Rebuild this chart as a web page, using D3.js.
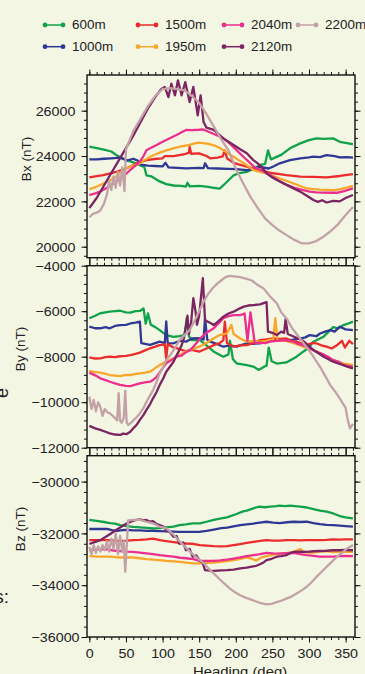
<!DOCTYPE html>
<html>
<head>
<meta charset="utf-8">
<script src="https://cdn.jsdelivr.net/npm/d3@7"></script>
<style>
  body { margin: 0; background: #f4f6e4; }
  svg { display: block; font-family: "Liberation Sans", Arial, sans-serif; }
</style>
</head>
<body>
<svg id="chart" width="365" height="674"></svg>
<script>
// legend / series info
const depths = ['600m', '1000m', '1500m', '1950m', '2040m', '2120m', '2200m'];
const colors = ['#10a24b', '#2f3894', '#ec2c2c', '#f9a72b', '#ec2f8e', '#7b2462', '#c3a2a7'];

// tick labels
const headingTicks = [0, 50, 100, 150, 200, 250, 300, 350];
const bxTicks = [20000, 22000, 24000, 26000];
const byTicks = [-12000, -10000, -8000, -6000, -4000];
const bzTicks = [-36000, -34000, -32000, -30000];

// ---- Bx (nT), [heading, value]
const bx600 = [[0,24420],[10,24350],[20,24280],[30,24200],[38,24020],[45,23900],[51,23820],[60,23720],[70,23580],[75,23520],[78,23150],[85,23100],[90,23000],[96,22880],[105,22760],[115,22700],[125,22680],[132,22650],[134,22820],[137,22660],[150,22680],[160,22650],[170,22600],[178,22560],[186,22800],[197,23150],[205,23250],[215,23300],[225,23450],[233,23600],[240,23650],[244,24250],[248,23850],[255,23950],[262,24050],[274,24340],[288,24560],[300,24700],[310,24780],[320,24760],[333,24780],[342,24630],[350,24580],[360,24520]];
const bx1000 = [[0,23850],[10,23850],[20,23880],[30,23900],[42,23930],[48,23850],[51,23800],[60,23880],[66,23800],[70,23620],[80,23580],[90,23560],[100,23540],[104,23700],[108,23500],[120,23480],[132,23460],[150,23480],[156,23470],[158,23680],[162,23470],[175,23450],[190,23430],[200,23420],[215,23380],[225,23450],[233,23520],[245,23450],[252,23550],[260,23680],[274,23820],[288,23900],[300,23940],[306,23970],[315,23950],[324,24040],[335,24000],[342,23940],[352,23950],[360,23930]];
const bx1500 = [[0,23060],[10,23110],[19,23160],[30,23250],[38,23310],[51,23460],[65,23680],[78,23820],[92,23880],[100,23900],[103,24000],[115,24000],[123,24040],[130,24080],[136,24150],[137,24400],[139,24100],[150,24120],[160,24000],[165,23900],[175,23930],[182,23980],[185,24250],[188,23900],[197,23700],[205,23620],[215,23530],[225,23450],[233,23380],[245,23280],[251,23240],[260,23200],[269,23160],[288,23090],[306,23080],[324,23060],[342,23120],[360,23200]];
const bx1950 = [[0,22540],[8,22620],[15,22720],[25,22880],[33,23010],[42,23250],[51,23460],[60,23580],[69,23680],[76,23830],[83,23970],[90,24070],[96,24150],[103,24230],[110,24290],[117,24360],[123,24410],[130,24450],[137,24490],[144,24560],[150,24590],[158,24560],[165,24520],[172,24450],[179,24340],[188,24150],[197,23970],[204,23820],[211,23680],[218,23530],[224,23380],[233,23300],[242,23240],[251,23120],[260,23010],[270,22900],[279,22790],[288,22680],[297,22570],[306,22540],[315,22520],[324,22510],[333,22500],[342,22530],[350,22600],[360,22680]];
const bx2040 = [[0,22280],[8,22350],[15,22430],[24,22600],[33,22790],[42,23000],[51,23240],[60,23500],[69,23750],[74,24000],[78,24260],[85,24380],[92,24490],[98,24600],[105,24710],[112,24820],[119,24930],[126,25050],[132,25150],[140,25140],[150,25160],[155,25180],[162,25080],[170,24970],[177,24880],[183,24780],[192,24550],[201,24260],[210,23980],[220,23680],[226,23500],[233,23400],[240,23280],[247,23160],[256,22980],[265,22790],[274,22680],[283,22570],[292,22500],[301,22430],[310,22400],[320,22390],[330,22380],[338,22380],[348,22450],[360,22570]];
const bx2120 = [[0,21700],[10,22150],[20,22700],[30,23250],[40,23800],[50,24350],[60,24900],[70,25500],[80,26100],[90,26600],[98,26950],[103,27050],[108,26600],[112,27190],[117,26680],[121,27340],[126,26680],[131,27260],[137,26380],[142,27050],[148,25800],[152,26680],[156,25500],[160,25250],[170,25150],[183,24780],[197,24490],[206,24300],[215,24120],[224,23820],[233,23600],[242,23240],[250,23050],[256,22940],[265,22800],[274,22650],[288,22430],[297,22250],[306,22060],[312,21980],[318,22050],[324,21950],[333,22020],[342,22000],[350,22150],[360,22280]];
const bx2200 = [[0,21300],[5,21450],[10,21500],[15,21600],[20,21900],[24,22300],[27,22900],[30,22500],[33,23100],[36,22600],[39,23300],[42,22700],[45,23500],[48,22450],[50,24300],[55,24700],[60,25100],[70,25650],[80,26200],[90,26650],[100,26950],[110,27000],[120,26950],[130,26900],[140,26650],[150,26350],[160,25850],[170,25300],[180,24750],[190,24250],[200,23450],[210,22800],[220,22200],[230,21700],[240,21250],[250,20950],[260,20700],[270,20500],[280,20300],[290,20150],[300,20150],[310,20250],[320,20450],[330,20700],[340,21000],[350,21400],[360,21750]];

// ---- By (nT)
const by600 = [[0,-6310],[8,-6200],[15,-6090],[22,-6050],[28,-6020],[35,-6000],[42,-5980],[50,-6050],[56,-6060],[63,-6000],[69,-5990],[74,-5880],[77,-6550],[80,-6100],[84,-6600],[90,-6700],[96,-6830],[105,-7050],[115,-7130],[123,-7100],[130,-7050],[133,-6300],[136,-7100],[140,-7270],[151,-7270],[160,-7500],[170,-7780],[183,-8000],[190,-7900],[192,-7300],[196,-8100],[201,-8290],[215,-8370],[225,-8450],[231,-8580],[238,-8450],[242,-8400],[245,-7600],[249,-8200],[256,-8300],[269,-8250],[283,-8000],[292,-7780],[300,-7600],[306,-7340],[315,-7200],[320,-7120],[333,-6700],[340,-6750],[347,-6610],[353,-6550],[360,-6460]];
const by1000 = [[0,-6680],[8,-6750],[15,-6750],[22,-6700],[28,-6750],[35,-6650],[42,-6610],[50,-6600],[56,-6540],[63,-6500],[69,-6460],[71,-7400],[78,-7450],[83,-7480],[90,-7400],[96,-7340],[103,-7400],[105,-6450],[107,-7400],[115,-7410],[124,-7300],[132,-7340],[140,-7200],[151,-7180],[156,-7250],[158,-6300],[161,-7250],[165,-7340],[175,-7450],[183,-7560],[192,-7500],[201,-7560],[215,-7410],[224,-7430],[233,-7410],[242,-7350],[251,-7270],[260,-7300],[269,-7270],[278,-7250],[288,-7200],[295,-7150],[301,-7050],[310,-7100],[315,-6980],[322,-6900],[329,-6830],[335,-6900],[342,-6680],[350,-6800],[360,-6830]];
const by1500 = [[0,-8030],[8,-8080],[15,-8070],[22,-8020],[28,-8000],[35,-8020],[42,-7980],[50,-7960],[56,-7930],[63,-7880],[69,-7820],[76,-7720],[83,-7630],[90,-7560],[96,-7490],[103,-7460],[105,-8100],[107,-7450],[115,-7600],[119,-7620],[126,-7700],[132,-7760],[140,-7700],[150,-7780],[160,-7640],[170,-7490],[178,-7400],[183,-7270],[185,-6460],[188,-7400],[197,-7560],[206,-7500],[215,-7490],[224,-7400],[233,-7270],[242,-7240],[251,-7200],[260,-7220],[269,-7200],[276,-7300],[283,-7340],[290,-7420],[297,-7490],[304,-7400],[310,-7410],[317,-7500],[324,-7560],[331,-7640],[338,-7500],[345,-7300],[349,-7600],[355,-7300],[360,-7450]];
const by1950 = [[0,-8620],[8,-8680],[15,-8700],[22,-8750],[28,-8810],[35,-8830],[42,-8850],[50,-8800],[56,-8810],[63,-8760],[69,-8730],[76,-8700],[83,-8660],[90,-8500],[96,-8370],[103,-8250],[110,-8150],[117,-8040],[123,-7930],[130,-7800],[137,-7710],[143,-7640],[150,-7560],[160,-7400],[170,-7190],[178,-7050],[188,-6970],[194,-6600],[197,-7000],[206,-7200],[215,-7340],[224,-7300],[233,-7340],[242,-7300],[247,-7250],[251,-7280],[254,-6300],[257,-7300],[265,-7280],[272,-7340],[279,-7400],[286,-7480],[292,-7560],[299,-7640],[306,-7710],[313,-7820],[320,-7930],[326,-8040],[333,-8150],[340,-8220],[347,-8300],[353,-8330],[360,-8370]];
const by2040 = [[0,-8700],[8,-8820],[15,-8950],[22,-9030],[28,-9100],[35,-9170],[42,-9240],[50,-9280],[56,-9290],[63,-9230],[69,-9170],[76,-9130],[83,-9100],[88,-9000],[92,-8880],[98,-8600],[105,-8290],[112,-8150],[119,-8000],[126,-7950],[132,-7800],[138,-7700],[145,-7450],[151,-7200],[160,-6950],[170,-6750],[176,-6550],[183,-6310],[190,-6220],[197,-6170],[206,-6170],[212,-6100],[216,-7300],[220,-6050],[226,-7400],[233,-7380],[240,-7400],[247,-7340],[256,-7300],[265,-7270],[272,-7300],[279,-7340],[286,-7450],[292,-7490],[299,-7600],[306,-7710],[313,-7820],[320,-7900],[326,-8000],[333,-8150],[340,-8220],[347,-8370],[353,-8400],[360,-8440]];
const by2120 = [[0,-11040],[8,-11150],[15,-11220],[22,-11300],[28,-11370],[35,-11420],[42,-11440],[46,-11380],[51,-11400],[56,-11300],[60,-11150],[65,-10980],[69,-10780],[74,-10560],[78,-10340],[83,-10080],[87,-9830],[92,-9540],[96,-9250],[101,-8950],[105,-8660],[110,-8440],[115,-8220],[119,-7950],[123,-7710],[126,-7500],[129,-7200],[132,-6650],[134,-6200],[136,-7000],[139,-6500],[142,-5430],[145,-6000],[147,-6600],[150,-6200],[155,-4550],[158,-6400],[164,-6500],[170,-6610],[176,-6450],[183,-6240],[190,-6100],[197,-6020],[204,-5900],[211,-5800],[217,-5750],[224,-5730],[233,-5700],[240,-5620],[242,-5600],[244,-6900],[250,-6950],[256,-7050],[262,-6900],[266,-6950],[268,-6350],[271,-7000],[278,-7100],[285,-7200],[292,-7300],[299,-7500],[306,-7710],[313,-7850],[320,-8000],[326,-8100],[333,-8220],[340,-8300],[347,-8370],[353,-8450],[360,-8510]];
const by2200 = [[0,-9760],[3,-10300],[6,-9900],[9,-10400],[12,-10000],[15,-10200],[18,-10600],[21,-10300],[25,-10450],[28,-10490],[32,-10600],[35,-10700],[38,-10800],[40,-9600],[42,-10800],[44,-10900],[47,-10700],[49,-9500],[51,-10900],[53,-11000],[57,-10900],[60,-10800],[65,-10650],[69,-10490],[74,-10250],[78,-9980],[83,-9700],[87,-9470],[92,-9100],[96,-8730],[101,-8450],[105,-8150],[110,-7950],[115,-7710],[119,-7500],[123,-7270],[130,-7050],[137,-6830],[144,-6400],[150,-6000],[156,-5580],[162,-5250],[168,-5000],[175,-4780],[180,-4650],[186,-4500],[192,-4450],[200,-4480],[206,-4500],[215,-4580],[222,-4650],[230,-4850],[238,-5000],[247,-5360],[256,-5650],[262,-6050],[270,-6350],[276,-6700],[283,-7000],[290,-7300],[297,-7600],[304,-7900],[310,-8200],[317,-8550],[323,-8900],[329,-9250],[336,-9550],[342,-9830],[347,-10100],[350,-10250],[353,-10800],[356,-11150],[360,-10950]];

// ---- Bz (nT)
const bz600 = [[0,-31480],[10,-31520],[20,-31560],[28,-31600],[35,-31620],[42,-31680],[51,-31720],[60,-31750],[69,-31770],[78,-31790],[87,-31810],[96,-31800],[105,-31770],[115,-31740],[123,-31680],[132,-31650],[141,-31610],[151,-31610],[160,-31550],[170,-31480],[180,-31420],[188,-31380],[201,-31250],[210,-31150],[215,-31120],[222,-31050],[231,-30970],[240,-30990],[247,-30970],[255,-30950],[260,-30930],[267,-30950],[274,-30930],[281,-30950],[288,-30970],[297,-31000],[306,-31060],[315,-31120],[324,-31160],[333,-31230],[342,-31330],[350,-31380],[360,-31420]];
const bz1000 = [[0,-31830],[10,-31830],[24,-31830],[31,-31870],[38,-31900],[45,-31870],[51,-31860],[60,-31880],[69,-31880],[78,-31900],[87,-31900],[96,-31910],[105,-31920],[115,-31930],[123,-31940],[135,-31940],[150,-31940],[160,-31900],[170,-31850],[180,-31800],[188,-31780],[197,-31730],[206,-31680],[215,-31650],[224,-31620],[233,-31580],[242,-31550],[251,-31580],[260,-31600],[270,-31570],[279,-31550],[288,-31560],[297,-31550],[306,-31600],[315,-31640],[324,-31670],[333,-31680],[342,-31700],[350,-31720],[360,-31740]];
const bz1500 = [[0,-32260],[12,-32260],[24,-32260],[33,-32280],[42,-32290],[51,-32280],[60,-32260],[69,-32250],[78,-32230],[87,-32200],[96,-32260],[105,-32300],[115,-32340],[123,-32370],[132,-32390],[141,-32400],[151,-32450],[160,-32470],[170,-32490],[180,-32500],[188,-32490],[197,-32450],[206,-32410],[215,-32370],[224,-32330],[233,-32290],[242,-32260],[251,-32280],[260,-32280],[270,-32260],[279,-32260],[288,-32270],[297,-32260],[306,-32260],[315,-32260],[324,-32250],[333,-32230],[342,-32240],[350,-32230],[360,-32230]];
const bz1950 = [[0,-32880],[12,-32900],[24,-32900],[33,-32910],[42,-32930],[51,-32930],[60,-32930],[69,-32960],[78,-32990],[87,-33010],[96,-33030],[105,-33060],[115,-33080],[124,-33100],[132,-33130],[142,-33160],[150,-33160],[160,-33140],[170,-33130],[179,-33100],[188,-33070],[197,-33030],[206,-32980],[215,-32930],[222,-32980],[228,-33050],[235,-32930],[242,-32880],[251,-32830],[260,-32770],[270,-32750],[279,-32710],[284,-32650],[288,-32600],[292,-32700],[300,-32740],[306,-32740],[315,-32700],[324,-32680],[333,-32720],[342,-32710],[350,-32710],[360,-32710]];
const bz2040 = [[0,-32650],[12,-32620],[24,-32620],[33,-32660],[42,-32680],[51,-32700],[60,-32710],[69,-32740],[78,-32770],[87,-32800],[96,-32840],[105,-32870],[115,-32900],[124,-32940],[132,-32960],[142,-32990],[151,-33060],[160,-33060],[170,-33060],[179,-33040],[188,-33010],[197,-32970],[206,-32930],[215,-32880],[224,-32840],[233,-32800],[242,-32750],[251,-32770],[260,-32780],[270,-32760],[279,-32750],[288,-32800],[297,-32840],[306,-32870],[315,-32900],[324,-32900],[333,-32900],[342,-32880],[350,-32870],[360,-32880]];
const bz2120 = [[0,-32410],[8,-32330],[15,-32260],[22,-32140],[28,-32030],[35,-31900],[42,-31770],[51,-31620],[60,-31510],[65,-31480],[69,-31460],[74,-31500],[78,-31480],[83,-31550],[87,-31530],[92,-31640],[96,-31680],[101,-31740],[105,-31870],[110,-31950],[115,-32130],[119,-32100],[123,-32400],[128,-32350],[132,-32650],[137,-32600],[141,-32900],[146,-32850],[151,-33060],[155,-33150],[158,-33420],[165,-33440],[170,-33450],[180,-33430],[188,-33420],[197,-33400],[206,-33350],[215,-33320],[220,-33290],[228,-33250],[233,-33190],[238,-33120],[242,-33030],[249,-32980],[256,-32900],[262,-32880],[269,-32840],[274,-32770],[279,-32710],[288,-32700],[297,-32710],[306,-32690],[315,-32680],[324,-32670],[333,-32650],[342,-32650],[350,-32640],[360,-32650]];
const bz2200 = [[0,-32520],[3,-32800],[6,-32450],[9,-32750],[12,-32500],[15,-32700],[18,-32450],[21,-32650],[24,-32300],[27,-32700],[30,-32200],[33,-32600],[36,-32000],[39,-32800],[42,-32100],[45,-32700],[47,-32300],[49,-33480],[51,-32500],[53,-31500],[60,-31480],[69,-31480],[78,-31550],[87,-31610],[96,-31740],[105,-31810],[115,-32050],[123,-32300],[132,-32550],[141,-32800],[151,-33030],[158,-33200],[165,-33420],[172,-33600],[179,-33800],[186,-33980],[192,-34130],[199,-34270],[206,-34390],[213,-34480],[220,-34550],[227,-34620],[233,-34680],[242,-34740],[249,-34720],[256,-34650],[262,-34600],[269,-34520],[276,-34440],[283,-34320],[290,-34200],[297,-34060],[304,-33870],[310,-33680],[317,-33490],[324,-33290],[331,-33100],[338,-32900],[345,-32750],[352,-32580],[360,-32450]];

const bxSeries = [bx600, bx1000, bx1500, bx1950, bx2040, bx2120, bx2200];
const bySeries = [by600, by1000, by1500, by1950, by2040, by2120, by2200];
const bzSeries = [bz600, bz1000, bz1500, bz1950, bz2040, bz2120, bz2200];

// layout
const left = 87;
const right = 355;
const stretch = 1.1; // text in the original is a bit wide

const panels = [
  { name: 'Bx (nT)', series: bxSeries, domain: [19515, 27575], ticks: bxTicks, top: 75, bottom: 257.7, labelX: 30.5, labelY: 159 },
  { name: 'By (nT)', series: bySeries, domain: [-12000, -4000], ticks: byTicks, top: 265.7, bottom: 447.7, labelX: 24.5, labelY: 349 },
  { name: 'Bz (nT)', series: bzSeries, domain: [-36000, -29000], ticks: bzTicks, top: 455.7, bottom: 637, labelX: 24.5, labelY: 529 }
];

const svg = d3.select('#chart');

const x = d3.scaleLinear()
  .domain([-3.2, 362.8])
  .range([left, right]);

const minorX = d3.range(0, 361, 10);
const fmt = d3.format('d');

panels.forEach((p, i) => {
  const y = d3.scaleLinear()
    .domain(p.domain)
    .range([p.bottom, p.top]);

  const minorY = d3.range(Math.ceil(p.domain[0] / 400) * 400, p.domain[1] + 1, 400);

  const g = svg.append('g').attr('class', 'panel');

  // clip
  const clipId = 'clip' + i;
  svg.append('clipPath').attr('id', clipId)
    .append('rect')
    .attr('x', left).attr('y', p.top)
    .attr('width', right - left).attr('height', p.bottom - p.top);

  // axes (ticks outward on all four sides)
  const addAxis = (axis, transform) => {
    const a = g.append('g').attr('transform', transform).call(axis);
    a.select('.domain').remove();
    a.selectAll('line').attr('stroke', '#111').attr('stroke-width', 1);
    return a;
  };

  addAxis(d3.axisTop(x).tickValues(minorX).tickSize(3).tickFormat(''), `translate(0,${p.top})`);
  addAxis(d3.axisTop(x).tickValues(headingTicks).tickSize(5.5).tickFormat(''), `translate(0,${p.top})`);
  addAxis(d3.axisBottom(x).tickValues(minorX).tickSize(3).tickFormat(''), `translate(0,${p.bottom})`);
  const xb = addAxis(d3.axisBottom(x).tickValues(headingTicks).tickSize(5.5)
    .tickFormat(i === 2 ? fmt : ''), `translate(0,${p.bottom})`);

  addAxis(d3.axisLeft(y).tickValues(minorY).tickSize(3).tickFormat(''), `translate(${left},0)`);
  const yl = addAxis(d3.axisLeft(y).tickValues(p.ticks).tickSize(5.5).tickFormat(fmt), `translate(${left},0)`);
  addAxis(d3.axisRight(y).tickValues(minorY).tickSize(3).tickFormat(''), `translate(${right},0)`);
  addAxis(d3.axisRight(y).tickValues(p.ticks).tickSize(5.5).tickFormat(''), `translate(${right},0)`);

  yl.selectAll('text')
    .attr('x', -31.5 / stretch)
    .attr('dy', '0.36em')
    .attr('text-anchor', 'middle')
    .attr('transform', `scale(${stretch},1)`)
    .attr('fill', '#222')
    .style('font-size', '13px')
    .style('font-family', '"Liberation Sans", Arial, sans-serif');

  if (i === 2) {
    xb.selectAll('text')
      .attr('y', 0)
      .attr('dy', 0)
      .attr('transform', `translate(0,${658.3 - p.bottom}) scale(${stretch},1)`)
      .attr('fill', '#222')
      .style('font-size', '13px')
      .style('font-family', '"Liberation Sans", Arial, sans-serif');
  }

  // data lines
  const line = d3.line()
    .x((d) => x(d[0]))
    .y((d) => y(d[1]));

  g.append('g')
    .attr('clip-path', `url(#${clipId})`)
    .selectAll('path')
    .data(p.series)
    .enter()
    .append('path')
    .attr('d', line)
    .attr('fill', 'none')
    .attr('stroke', (d, k) => colors[k])
    .attr('stroke-width', 2.3)
    .attr('stroke-linejoin', 'round');

  // frame
  g.append('rect')
    .attr('x', left).attr('y', p.top)
    .attr('width', right - left).attr('height', p.bottom - p.top)
    .attr('fill', 'none')
    .attr('stroke', '#111')
    .attr('stroke-width', 1.4);

  // y label
  g.append('text')
    .attr('transform', `translate(${p.labelX},${p.labelY}) rotate(-90)`)
    .attr('text-anchor', 'middle')
    .attr('fill', '#222')
    .style('font-size', '13.5px')
    .text(p.name);
});

// x label (cut by the bottom edge, as in the original)
svg.append('text')
  .attr('transform', `translate(193,676.4) scale(${stretch},1)`)
  .attr('fill', '#222')
  .style('font-size', '13.5px')
  .text('Heading (deg)');

// legend
const legendPos = [[45, 25], [45, 46.7], [138, 25], [138, 46.7], [224, 25], [224, 46.7], [298, 25]];
const legend = svg.append('g').attr('class', 'legend');

depths.forEach((name, k) => {
  const [lx, ly] = legendPos[k];
  const item = legend.append('g').attr('transform', `translate(${lx},${ly})`);
  item.append('line')
    .attr('x1', 0).attr('x2', 18)
    .attr('stroke', colors[k]).attr('stroke-width', 1.5);
  item.selectAll('circle')
    .data([0, 18])
    .enter()
    .append('circle')
    .attr('cx', (d) => d)
    .attr('r', 2.4)
    .attr('fill', colors[k]);
  item.append('text')
    .attr('transform', `translate(27,3.8) scale(1.12,1)`)
    .attr('fill', '#222')
    .style('font-size', '12px')
    .text(name);
});

// fragments of neighbouring text at the left edge (cropped in the original)
svg.append('text')
  .attr('transform', 'translate(8,393) rotate(-90)')
  .attr('text-anchor', 'middle')
  .attr('fill', '#222')
  .style('font-size', '18px')
  .text('e');

svg.append('text')
  .attr('x', 9).attr('y', 603)
  .attr('text-anchor', 'end')
  .attr('fill', '#222')
  .style('font-size', '19px')
  .text('s:');
</script>
</body>
</html>
